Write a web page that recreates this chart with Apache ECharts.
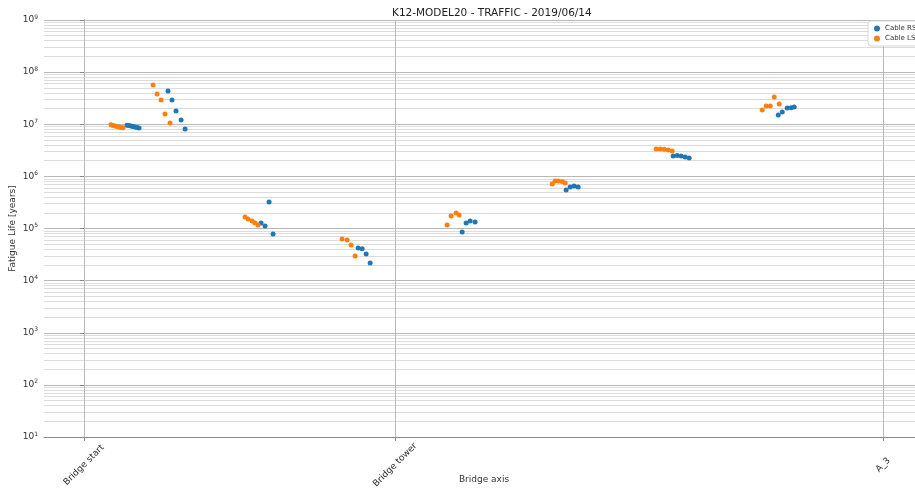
<!DOCTYPE html>
<html>
<head>
<meta charset="utf-8">
<script src="https://cdn.jsdelivr.net/npm/echarts@6/dist/echarts.min.js"></script>
<style>html,body{margin:0;padding:0;background:#fff;}#c{width:915px;height:491px;}</style>
</head>
<body>
<div id="c"></div>
<script>
// Tick positions / labels along bridge axis
const tickPositions = [0, 350, 899];
const tickLabels = ['Bridge start', 'Bridge tower', 'A_3'];

// Cable RS (blue)
const rsX = [48.4,50.6,52.9,55.1,57.4,59.6,61.9,
             94.5,99.0,103.5,109.2,113.7,
             199.2,203.7,208.2,212.7,
             308.4,312.9,317.4,321.9,
             425.4,429.9,434.4,440.0,
             542.4,546.9,551.4,555.9,
             662.8,667.3,671.8,676.3,680.8,
             781.0,785.5,791.1,795.6,799.0];
const rsY = [9.6e6,9.5e6,9.3e6,9.1e6,8.9e6,8.7e6,8.5e6,
             4.34e7,2.92e7,1.80e7,1.21e7,8.11e6,
             1.28e5,1.12e5,3.22e5,7.84e4,
             4.23e4,4.1e4,3.24e4,2.18e4,
             8.57e4,1.28e5,1.39e5,1.33e5,
             5.48e5,6.25e5,6.54e5,6.25e5,
             2.46e6,2.51e6,2.46e6,2.35e6,2.25e6,
             1.50e7,1.72e7,2.05e7,2.08e7,2.14e7];

// Cable LS (orange)
const lsX = [30.4,32.6,34.9,37.1,39.4,41.6,43.9,
             77.7,82.2,86.7,91.1,96.8,
             181.2,184.6,189.1,192.4,195.8,
             290.3,296.0,300.5,305.0,
             408.5,413.0,418.6,422.0,
             526.7,530.0,533.4,537.9,541.3,
             643.7,648.2,652.7,657.2,661.7,
             763.0,767.5,772.0,776.5,782.1];
const lsY = [9.8e6,9.5e6,9.3e6,9.1e6,8.9e6,8.7e6,8.6e6,
             5.66e7,3.80e7,2.92e7,1.57e7,1.06e7,
             1.66e5,1.52e5,1.39e5,1.28e5,1.17e5,
             6.29e4,6.02e4,4.82e4,2.97e4,
             1.17e5,1.74e5,1.98e5,1.81e5,
             7.14e5,8.15e5,8.15e5,7.98e5,7.47e5,
             3.35e6,3.35e6,3.30e6,3.21e6,3.07e6,
             1.88e7,2.24e7,2.24e7,3.33e7,2.45e7];

const FONT = 'DejaVu Sans';
const zip = (a, b) => a.map((v, i) => [v, b[i]]);

// minor log grid lines (2..9 x 10^k)
const minorLines = [];
for (let k = 1; k < 9; k++) {
  for (let m = 2; m <= 9; m++) minorLines.push({ yAxis: m * Math.pow(10, k) });
}
const vLines = tickPositions.map(v => ({ xAxis: v }));

const chart = echarts.init(document.getElementById('c'), null, { renderer: 'canvas' });
chart.setOption({
  animation: false,
  backgroundColor: '#fff',
  title: {
    text: 'K12-MODEL20 - TRAFFIC - 2019/06/14',
    left: 387, top: 3,
    textStyle: { fontFamily: FONT, fontSize: 10.5, fontWeight: 'normal', color: '#222' }
  },
  legend: {
    data: ['Cable RS', 'Cable LS'],
    orient: 'vertical',
    left: 868, top: 21,
    itemWidth: 6, itemHeight: 6, itemGap: 3,
    padding: [4, 6],
    borderColor: '#d8d8d8', borderWidth: 1, borderRadius: 3,
    backgroundColor: '#fff',
    textStyle: { fontFamily: FONT, fontSize: 7, color: '#333' }
  },
  grid: { left: 44, top: 20, right: -9, bottom: 54, containLabel: false, outerBoundsMode: 'none' },
  xAxis: {
    type: 'value',
    min: -45, max: 945,
    name: 'Bridge axis',
    nameLocation: 'middle',
    nameGap: 38,
    nameMoveOverlap: false,
    nameTextStyle: { fontFamily: FONT, fontSize: 9, color: '#333' },
    axisLine: { show: true, onZero: false, lineStyle: { color: '#888', width: 1 } },
    axisTick: { show: true, customValues: tickPositions, length: 4, lineStyle: { color: '#888' } },
    axisLabel: {
      customValues: tickPositions,
      rotate: 45,
      align: 'center',
      verticalAlign: 'middle',
      margin: 28,
      fontFamily: FONT, fontSize: 9, color: '#333',
      formatter: v => {
        const i = tickPositions.indexOf(v);
        return i >= 0 ? tickLabels[i] : '';
      }
    },
    splitLine: { show: false }
  },
  yAxis: {
    type: 'log',
    logBase: 10,
    min: 10, max: 1e9,
    name: 'Fatigue Life [years]',
    nameLocation: 'middle',
    nameGap: 27,
    nameMoveOverlap: false,
    nameTextStyle: { fontFamily: FONT, fontSize: 9, color: '#333' },
    axisLine: { show: true, lineStyle: { color: '#888', width: 1 } },
    axisTick: { show: true, length: 4, lineStyle: { color: '#888' } },
    axisLabel: {
      margin: 6,
      formatter: v => {
        const e = Math.round(Math.log10(v));
        return '{b|10}{s|' + e + '}';
      },
      rich: {
        b: { fontFamily: FONT, fontSize: 9, color: '#333' },
        s: { fontFamily: FONT, fontSize: 6, color: '#333', verticalAlign: 'top', padding: [0, 0, 6, 0] }
      }
    },
    splitLine: { show: true, lineStyle: { color: '#b8b8b8', width: 1 } }
  },
  series: [
    {
      name: 'grid',
      type: 'scatter',
      data: [],
      silent: true,
      z: 1,
      markLine: {
        silent: true,
        z: 1,
        symbol: 'none',
        label: { show: false },
        emphasis: { disabled: true },
        animation: false,
        data: minorLines.map(d => Object.assign({ lineStyle: { color: '#dcdcdc', width: 1, type: 'solid' } }, d))
          .concat(vLines.map(d => Object.assign({ lineStyle: { color: '#b8b8b8', width: 1, type: 'solid' } }, d)))
      }
    },
    {
      name: 'Cable RS',
      type: 'scatter',
      symbol: 'circle',
      symbolSize: 5,
      itemStyle: { color: '#1f77b4', opacity: 1 },
      z: 10,
      data: zip(rsX, rsY)
    },
    {
      name: 'Cable LS',
      type: 'scatter',
      symbol: 'circle',
      symbolSize: 5,
      itemStyle: { color: '#ff7f0e', opacity: 1 },
      z: 10,
      data: zip(lsX, lsY)
    }
  ]
});
</script>
</body>
</html>
